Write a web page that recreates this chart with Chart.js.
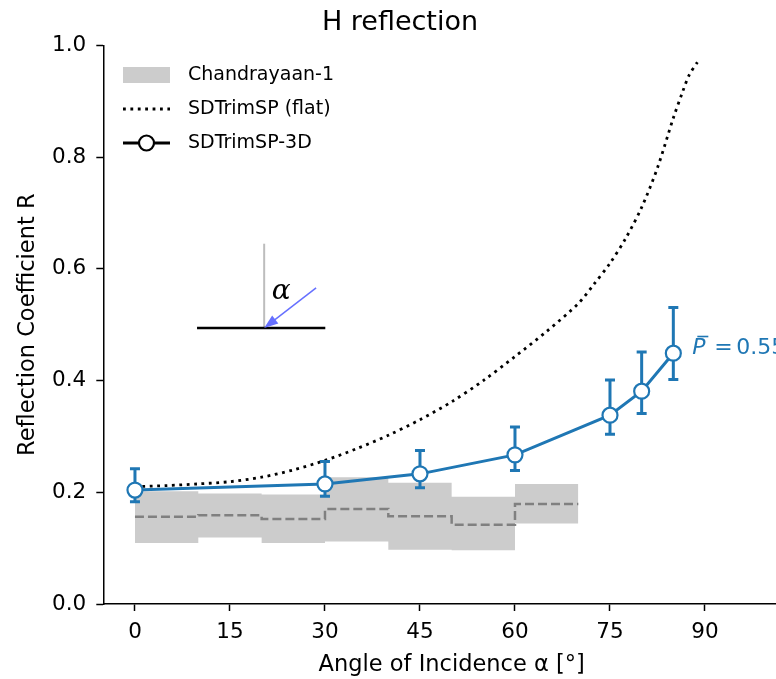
<!DOCTYPE html>
<html>
<head>
<meta charset="utf-8">
<script src="https://cdn.jsdelivr.net/npm/chart.js@4.4.0/dist/chart.umd.min.js"></script>
<style>
  html, body { margin: 0; padding: 0; background: #fff; overflow: hidden; }
  #wrap { width: 903px; height: 679px; }
</style>
</head>
<body>
<div id="wrap"><canvas id="chart" width="903" height="679"></canvas></div>
<script>
// SDTrimSP-3D simulation points (with error bars)
const angles3D = [0, 30, 45, 60, 75, 80, 85];
const r3D = [0.204, 0.215, 0.233, 0.267, 0.338, 0.381, 0.449];
const r3DLow = [0.183, 0.193, 0.208, 0.239, 0.304, 0.341, 0.402];
const r3DHigh = [0.242, 0.255, 0.275, 0.317, 0.401, 0.451, 0.531];

// Chandrayaan-1 bins (left edges + final edge)
const binEdges = [0, 10, 20, 30, 40, 50, 60, 70];
const chMedian = [0.156, 0.159, 0.152, 0.170, 0.157, 0.142, 0.179];
const chLow = [0.109, 0.119, 0.109, 0.112, 0.097, 0.096, 0.144];
const chHigh = [0.202, 0.198, 0.196, 0.227, 0.217, 0.192, 0.215];

// SDTrimSP flat surface curve
const flatAngles = [0, 5, 10, 15, 20, 25, 30, 35, 40, 45, 50, 55, 60, 65, 70, 72.5, 75, 77.5, 80, 82.5, 85, 86.5, 87.5, 88.8];
const flatR = [0.210, 0.212, 0.215, 0.219, 0.227, 0.240, 0.257, 0.278, 0.302, 0.330, 0.362, 0.400, 0.443, 0.488, 0.538, 0.573, 0.610, 0.655, 0.710, 0.781, 0.870, 0.918, 0.947, 0.970];

const xTicks = [0, 15, 30, 45, 60, 75, 90];
const yTicks = [0.0, 0.2, 0.4, 0.6, 0.8, 1.0];
const meanP = 0.55;

const blue = '#1f77b4';

// stepped series need the last bin value repeated at the closing edge
const stepped = vals => binEdges.map((e, i) => ({ x: e, y: vals[Math.min(i, vals.length - 1)] }));
const pairs = (xs, ys) => xs.map((v, i) => ({ x: v, y: ys[i] }));

Chart.defaults.font.family = "'DejaVu Sans', sans-serif";
Chart.defaults.color = '#000';

const overlay = {
    id: 'overlay',
    beforeDatasetDraw(chart, args) {
        if (args.index !== 0) return;
        const { ctx, scales: { x, y } } = chart;
        ctx.save();
        ctx.strokeStyle = blue;
        ctx.lineWidth = 3;
        angles3D.forEach((a, i) => {
            const px = x.getPixelForValue(a);
            const lo = y.getPixelForValue(r3DLow[i]);
            const hi = y.getPixelForValue(r3DHigh[i]);
            ctx.beginPath();
            ctx.moveTo(px, lo); ctx.lineTo(px, hi);
            ctx.moveTo(px - 5, lo); ctx.lineTo(px + 5, lo);
            ctx.moveTo(px - 5, hi); ctx.lineTo(px + 5, hi);
            ctx.stroke();
        });
        ctx.restore();
    },
    afterDatasetsDraw(chart) {
        const { ctx, scales: { x, y } } = chart;
        ctx.save();

        // inset sketch of the geometry
        const surfY = y.getPixelForValue(0.494);
        const normX = x.getPixelForValue(20.4);
        ctx.strokeStyle = '#bdbdbd';
        ctx.lineWidth = 2;
        ctx.beginPath();
        ctx.moveTo(normX, y.getPixelForValue(0.645));
        ctx.lineTo(normX, surfY);
        ctx.stroke();
        ctx.strokeStyle = '#000';
        ctx.lineWidth = 2.5;
        ctx.beginPath();
        ctx.moveTo(x.getPixelForValue(9.8), surfY);
        ctx.lineTo(x.getPixelForValue(30.05), surfY);
        ctx.stroke();
        const ax = x.getPixelForValue(28.6), ay = y.getPixelForValue(0.566);
        const ang = Math.atan2(surfY - ay, normX - ax);
        ctx.strokeStyle = '#6670ff';
        ctx.fillStyle = '#6670ff';
        ctx.lineWidth = 1.5;
        ctx.beginPath();
        ctx.moveTo(ax, ay);
        ctx.lineTo(normX - 10 * Math.cos(ang), surfY - 10 * Math.sin(ang));
        ctx.stroke();
        ctx.beginPath();
        ctx.moveTo(normX, surfY);
        ctx.lineTo(normX - 14 * Math.cos(ang) + 5 * Math.sin(ang), surfY - 14 * Math.sin(ang) - 5 * Math.cos(ang));
        ctx.lineTo(normX - 14 * Math.cos(ang) - 5 * Math.sin(ang), surfY - 14 * Math.sin(ang) + 5 * Math.cos(ang));
        ctx.closePath();
        ctx.fill();
        ctx.fillStyle = '#000';
        ctx.font = "italic 28px 'DejaVu Serif', serif";
        ctx.textAlign = 'center';
        ctx.textBaseline = 'middle';
        ctx.fillText('α', x.getPixelForValue(23.1), y.getPixelForValue(0.559));

        // mean P label
        ctx.fillStyle = blue;
        ctx.textAlign = 'left';
        ctx.font = "italic 22px 'DejaVu Sans', sans-serif";
        const lx = x.getPixelForValue(88.0), ly = y.getPixelForValue(0.457);
        ctx.fillText('P', lx, ly);
        ctx.fillRect(lx + 5, ly - 13, 11, 1.6);
        ctx.font = "22px 'DejaVu Sans', sans-serif";
        ctx.fillText('=', lx + 22, ly);
        ctx.fillText(meanP.toFixed(2), lx + 44, ly);

        // legend
        ctx.font = "19px 'DejaVu Sans', sans-serif";
        ctx.fillStyle = '#cccccc';
        ctx.fillRect(123, 67, 47, 16);
        ctx.strokeStyle = '#000';
        ctx.lineWidth = 2.8;
        ctx.setLineDash([2.8, 4.6]);
        ctx.beginPath();
        ctx.moveTo(123, 109); ctx.lineTo(170, 109);
        ctx.stroke();
        ctx.setLineDash([]);
        ctx.beginPath();
        ctx.moveTo(123, 143); ctx.lineTo(170, 143);
        ctx.stroke();
        ctx.fillStyle = '#fff';
        ctx.lineWidth = 2.2;
        ctx.beginPath();
        ctx.arc(146.5, 143, 7.5, 0, Math.PI * 2);
        ctx.fill(); ctx.stroke();
        ctx.fillStyle = '#000';
        ctx.fillText('Chandrayaan-1', 188, 75);
        ctx.fillText('SDTrimSP (flat)', 188, 109);
        ctx.fillText('SDTrimSP-3D', 188, 143);
        ctx.restore();
    }
};

new Chart(document.getElementById('chart'), {
    type: 'line',
    data: {
        datasets: [
            {
                label: 'SDTrimSP-3D',
                data: pairs(angles3D, r3D),
                borderColor: blue,
                borderWidth: 3,
                pointRadius: 7.5,
                pointBorderWidth: 2.2,
                pointBackgroundColor: '#fff',
                pointBorderColor: blue,
                tension: 0
            },
            {
                label: 'SDTrimSP (flat)',
                data: pairs(flatAngles, flatR),
                borderColor: '#000',
                borderWidth: 2.8,
                borderDash: [2.8, 4.6],
                pointRadius: 0,
                tension: 0.3
            },
            {
                label: 'median',
                data: stepped(chMedian),
                borderColor: '#808080',
                borderWidth: 2.5,
                borderDash: [9, 4],
                stepped: true,
                pointRadius: 0
            },
            {
                label: 'Chandrayaan-1',
                data: stepped(chHigh),
                borderWidth: 0,
                borderColor: 'rgba(0,0,0,0)',
                backgroundColor: '#cccccc',
                stepped: true,
                fill: '+1',
                pointRadius: 0
            },
            {
                label: 'low',
                data: stepped(chLow),
                borderWidth: 0,
                borderColor: 'rgba(0,0,0,0)',
                stepped: true,
                pointRadius: 0
            }
        ]
    },
    options: {
        responsive: false,
        animation: false,
        events: [],
        layout: { padding: { left: 0, right: 103, top: 0, bottom: 0 } },
        plugins: {
            legend: { display: false },
            tooltip: { enabled: false },
            title: {
                display: true,
                text: 'H reflection',
                font: { size: 27, weight: 'normal' },
                color: '#000',
                padding: { top: 7, bottom: 6 }
            }
        },
        scales: {
            x: {
                type: 'linear',
                min: -5,
                max: 105,
                afterBuildTicks: s => { s.ticks = xTicks.map(v => ({ value: v })); },
                afterFit: s => { s.height = 75; },
                ticks: { font: { size: 21.5 }, color: '#000', padding: 9, maxRotation: 0 },
                grid: { drawOnChartArea: false, drawTicks: true, tickLength: 7, tickWidth: 1.5, tickColor: '#000' },
                border: { display: true, color: '#000', width: 1.5 },
                title: { display: true, text: 'Angle of Incidence α [°]', font: { size: 22.5 }, color: '#000', padding: { top: 0, bottom: 0 } }
            },
            y: {
                type: 'linear',
                min: 0,
                max: 1,
                afterBuildTicks: s => { s.ticks = yTicks.map(v => ({ value: v })); },
                afterFit: s => { s.width = 103.3; },
                ticks: { font: { size: 21.5 }, color: '#000', padding: 10, callback: v => v.toFixed(1) },
                grid: { drawOnChartArea: false, drawTicks: true, tickLength: 7, tickWidth: 1.5, tickColor: '#000' },
                border: { display: true, color: '#000', width: 1.5 },
                title: { display: true, text: 'Reflection Coefficient R', font: { size: 22.5 }, color: '#000', padding: { top: 14.5, bottom: 0 } }
            }
        }
    },
    plugins: [overlay]
});
</script>
</body>
</html>
